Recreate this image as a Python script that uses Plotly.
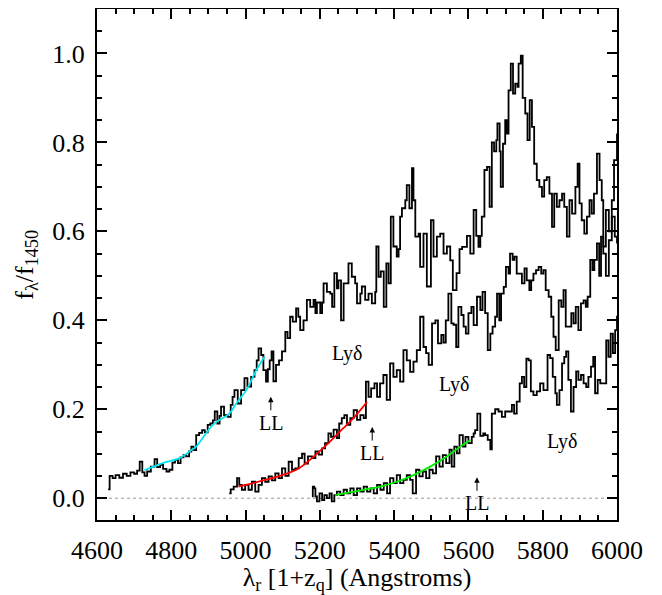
import plotly.graph_objects as go

# spectra (rest wavelength, normalised flux)
top_wave = [4630, 4634, 4642, 4650, 4660, 4670, 4680, 4690, 4700, 4708, 4715, 4722, 4728, 4735, 4745,
            4755, 4762, 4770, 4778, 4787, 4795, 4803, 4810, 4818, 4825, 4833, 4840, 4848, 4854, 4860,
            4867, 4875, 4883, 4890, 4898, 4905, 4912, 4917, 4924, 4930, 4934, 4942, 4952, 4960, 4965,
            4970, 4979, 4988, 4997, 5005, 5015, 5024, 5030, 5035, 5042, 5048, 5055, 5060, 5065, 5070,
            5075, 5082, 5090, 5098, 5107, 5113, 5120, 5127, 5136, 5142, 5147, 5156, 5165, 5174, 5183,
            5188, 5192, 5201, 5206, 5210, 5219, 5228, 5233, 5239, 5246, 5250, 5257, 5264, 5277, 5286,
            5295, 5300, 5309, 5313, 5322, 5331, 5340, 5349, 5352, 5358, 5364, 5372, 5379, 5385, 5391,
            5398, 5407, 5412, 5416, 5421, 5430, 5434, 5441, 5448, 5452, 5457, 5466, 5470, 5479, 5488,
            5499, 5506, 5515, 5524, 5533, 5542, 5551, 5558, 5568, 5576, 5583, 5596, 5605, 5614, 5621,
            5627, 5632, 5636, 5643, 5650, 5657, 5663, 5669, 5675, 5678, 5684, 5687, 5693, 5699, 5703,
            5708, 5714, 5720, 5726, 5732, 5735, 5741, 5746, 5753, 5759, 5765, 5771, 5777, 5784, 5791,
            5798, 5804, 5811, 5818, 5825, 5831, 5838, 5845, 5852, 5858, 5865, 5872, 5879, 5888, 5894,
            5899, 5905, 5912, 5919, 5926, 5932, 5938, 5946, 5953, 5959, 5963, 5970, 5978, 5986, 5992,
            6000]
top_flux = [0.02, 0.05, 0.045, 0.052, 0.046, 0.055, 0.05, 0.058, 0.055, 0.062, 0.082, 0.058, 0.05, 0.06, 0.071,
            0.088, 0.07, 0.075, 0.066, 0.06, 0.064, 0.08, 0.086, 0.079, 0.092, 0.097, 0.094, 0.105, 0.116, 0.108,
            0.142, 0.147, 0.153, 0.148, 0.165, 0.168, 0.175, 0.195, 0.168, 0.185, 0.206, 0.187, 0.183, 0.21, 0.228,
            0.243, 0.213, 0.243, 0.27, 0.251, 0.273, 0.288, 0.31, 0.337, 0.322, 0.288, 0.262, 0.29, 0.31, 0.33,
            0.263, 0.30, 0.31, 0.33, 0.374, 0.36, 0.408, 0.397, 0.427, 0.408, 0.378, 0.40, 0.446, 0.43, 0.446,
            0.416, 0.44, 0.416, 0.44, 0.483, 0.464, 0.46, 0.43, 0.506, 0.472, 0.49, 0.40, 0.483, 0.528, 0.498,
            0.483, 0.438, 0.46, 0.476, 0.446, 0.46, 0.438, 0.464, 0.566, 0.498, 0.51, 0.43, 0.528, 0.483, 0.633,
            0.566, 0.543, 0.56, 0.633, 0.652, 0.67, 0.704, 0.652, 0.742, 0.67, 0.588, 0.595, 0.52, 0.595, 0.476,
            0.625, 0.543, 0.588, 0.595, 0.55, 0.566, 0.535, 0.468, 0.506, 0.56, 0.565, 0.59, 0.55, 0.648, 0.59,
            0.565, 0.59, 0.633, 0.738, 0.745, 0.655, 0.80, 0.78, 0.805, 0.843, 0.78, 0.70, 0.797, 0.85, 0.82,
            0.917, 0.977, 0.91, 0.932, 0.925, 0.977, 0.995, 0.90, 0.865, 0.805, 0.895, 0.835, 0.752, 0.715, 0.70,
            0.678, 0.715, 0.722, 0.685, 0.61, 0.685, 0.655, 0.67, 0.685, 0.655, 0.588, 0.67, 0.64, 0.70, 0.752,
            0.663, 0.625, 0.595, 0.633, 0.67, 0.64, 0.685, 0.775, 0.715, 0.67, 0.55, 0.50, 0.58, 0.67, 0.76,
            0.82]

mid_wave = [4956, 4960, 4968, 4977, 4983, 4990, 4999, 5008, 5017, 5026, 5035, 5044, 5053, 5062, 5071,
            5080, 5089, 5098, 5107, 5116, 5125, 5134, 5143, 5152, 5159, 5168, 5179, 5188, 5197, 5206,
            5214, 5223, 5230, 5237, 5246, 5252, 5259, 5266, 5273, 5282, 5291, 5300, 5309, 5318, 5324,
            5331, 5338, 5347, 5354, 5362, 5371, 5380, 5389, 5398, 5407, 5416, 5425, 5434, 5443, 5452,
            5461, 5470, 5479, 5486, 5493, 5502, 5511, 5518, 5527, 5533, 5539, 5546, 5554, 5560, 5567,
            5573, 5581, 5587, 5593, 5600, 5608, 5614, 5623, 5632, 5638, 5645, 5652, 5659, 5665, 5672,
            5677, 5683, 5688, 5695, 5701, 5708, 5712, 5719, 5724, 5730, 5737, 5744, 5751, 5757, 5764,
            5769, 5775, 5782, 5789, 5796, 5802, 5808, 5816, 5823, 5829, 5835, 5843, 5850, 5856, 5862,
            5869, 5877, 5883, 5889, 5896, 5903, 5910, 5916, 5921, 5928, 5934, 5939, 5946, 5952, 5957,
            5963, 5970, 5978, 5986, 5994, 6000]
mid_flux = [0.011, 0.02, 0.026, 0.045, 0.03, 0.019, 0.03, 0.019, 0.037, 0.015, 0.03, 0.045, 0.037, 0.049, 0.04,
            0.056, 0.045, 0.067, 0.05, 0.082, 0.064, 0.067, 0.09, 0.10, 0.078, 0.094, 0.09, 0.105, 0.098, 0.112,
            0.124, 0.146, 0.138, 0.154, 0.135, 0.168, 0.18, 0.187, 0.165, 0.18, 0.198, 0.176, 0.187, 0.18, 0.262,
            0.228, 0.247, 0.258, 0.228, 0.258, 0.277, 0.221, 0.303, 0.273, 0.288, 0.262, 0.333, 0.31, 0.284, 0.307,
            0.333, 0.408, 0.34, 0.326, 0.30, 0.393, 0.40, 0.348, 0.367, 0.35, 0.40, 0.46, 0.393, 0.39, 0.34,
            0.43, 0.412, 0.386, 0.37, 0.416, 0.43, 0.389, 0.453, 0.423, 0.464, 0.416, 0.333, 0.37, 0.386, 0.408,
            0.46, 0.40, 0.46, 0.475, 0.52, 0.505, 0.55, 0.536, 0.543, 0.505, 0.505, 0.483, 0.517, 0.49, 0.468,
            0.49, 0.505, 0.513, 0.52, 0.505, 0.513, 0.468, 0.453, 0.408, 0.363, 0.333, 0.445, 0.43, 0.468, 0.386,
            0.386, 0.416, 0.393, 0.43, 0.378, 0.438, 0.445, 0.43, 0.453, 0.536, 0.513, 0.536, 0.573, 0.50, 0.588,
            0.566, 0.648, 0.60, 0.633, 0.588, 0.573]

low_wave = [5179, 5181, 5185, 5188, 5192, 5199, 5206, 5212, 5219, 5226, 5232, 5239, 5246, 5255, 5264,
            5273, 5282, 5291, 5300, 5309, 5318, 5327, 5336, 5345, 5354, 5363, 5372, 5381, 5389, 5398,
            5407, 5416, 5425, 5434, 5443, 5450, 5459, 5468, 5477, 5486, 5495, 5504, 5513, 5522, 5531,
            5540, 5549, 5555, 5562, 5569, 5576, 5585, 5592, 5600, 5609, 5614, 5618, 5624, 5632, 5640,
            5645, 5652, 5659, 5663, 5672, 5681, 5690, 5699, 5708, 5717, 5723, 5730, 5738, 5744, 5750,
            5756, 5762, 5768, 5775, 5784, 5793, 5802, 5813, 5820, 5827, 5834, 5838, 5845, 5852, 5858,
            5863, 5869, 5876, 5883, 5890, 5896, 5903, 5910, 5917, 5923, 5930, 5936, 5941, 5948, 5955,
            5964, 5971, 5977, 5983, 5989, 5995, 6000]
low_flux = [0.004, 0.026, 0.022, 0.004, -0.007, 0.011, -0.004, 0.007, 0.0, 0.011, -0.007, 0.007, 0.015, 0.007, 0.019,
            0.011, 0.022, 0.007, 0.022, 0.015, 0.026, 0.015, 0.022, 0.011, 0.03, 0.019, 0.034, 0.011, 0.045, 0.034,
            0.052, 0.034, 0.041, 0.052, 0.041, 0.011, 0.064, 0.049, 0.06, 0.045, 0.064, 0.056, 0.094, 0.071, 0.097,
            0.079, 0.109, 0.071, 0.116, 0.101, 0.142, 0.116, 0.138, 0.124, 0.138, 0.146, 0.153, 0.19, 0.14, 0.146,
            0.142, 0.131, 0.11, 0.19, 0.20, 0.195, 0.183, 0.195, 0.195, 0.21, 0.19, 0.217, 0.258, 0.273, 0.25,
            0.314, 0.31, 0.24, 0.232, 0.24, 0.258, 0.243, 0.322, 0.315, 0.273, 0.236, 0.21, 0.243, 0.303, 0.318,
            0.33, 0.266, 0.195, 0.25, 0.285, 0.266, 0.277, 0.258, 0.25, 0.273, 0.296, 0.318, 0.236, 0.266, 0.258,
            0.258, 0.355, 0.318, 0.37, 0.326, 0.378, 0.41]

# continuum fits
cyan_wave = [4728, 4777, 4822, 4854, 4867, 4912, 4957, 4975, 5002, 5029, 5051]
cyan_flux = [0.063, 0.079, 0.09, 0.108, 0.116, 0.165, 0.191, 0.213, 0.243, 0.288, 0.318]
red_wave = [4981, 5053, 5098, 5143, 5188, 5232, 5259, 5286, 5313, 5327]
red_flux = [0.026, 0.041, 0.052, 0.067, 0.097, 0.131, 0.154, 0.176, 0.202, 0.217]
green_wave = [5241, 5318, 5363, 5407, 5452, 5497, 5542, 5578, 5605]
green_flux = [0.007, 0.019, 0.026, 0.037, 0.052, 0.071, 0.094, 0.116, 0.131]

# labels: Ly-delta positions and Lyman-limit arrow tips
lyd_x = [5274, 5562, 5852]
lyd_y = [0.326, 0.255, 0.127]
ll_x = [5068, 5341, 5623]
ll_tip_y = [0.228, 0.160, 0.047]

FONT = "Liberation Serif"

fig = go.Figure()
for w, f in [(top_wave, top_flux), (mid_wave, mid_flux), (low_wave, low_flux)]:
    fig.add_trace(go.Scatter(x=w, y=f, mode="lines", line=dict(color="black", width=1.8, shape="hv"),
                             showlegend=False))
for w, f, c in [(cyan_wave, cyan_flux, "#00e5ee"), (red_wave, red_flux, "#ff0000"),
                (green_wave, green_flux, "#00ee00")]:
    fig.add_trace(go.Scatter(x=w, y=f, mode="lines", line=dict(color=c, width=1.8, shape="spline"),
                             showlegend=False))

fig.add_hline(y=0, line=dict(color="#999999", width=1, dash="dot"), layer="below")

for x, y in zip(lyd_x, lyd_y):
    fig.add_annotation(x=x, y=y, text="Lyδ", showarrow=False, font=dict(family=FONT, size=20, color="black"))
for x, y in zip(ll_x, ll_tip_y):
    # "LL" sits under the tip, the arrow runs up from the text box
    fig.add_annotation(x=x, y=y, ax=0, ay=26, text="LL", showarrow=True, arrowhead=2, arrowsize=1.1,
                       arrowwidth=1, arrowcolor="black", standoff=0,
                       font=dict(family=FONT, size=20, color="black"))

# y title placed by hand so it sits where the reference has it
fig.add_annotation(xref="paper", yref="paper", x=-0.138, y=0.5, xanchor="center", yanchor="middle",
                   text="f<sub>λ</sub>/f<sub>1450</sub>", textangle=-90, showarrow=False,
                   font=dict(family=FONT, size=26, color="black"))

axis_common = dict(showline=True, linecolor="black", linewidth=2, mirror="ticks", ticks="inside",
                   tickcolor="black", tickwidth=2, ticklen=10, showgrid=False, zeroline=False,
                   automargin=False, tickfont=dict(family=FONT, size=26, color="black"))

fig.update_xaxes(range=[4600, 6000], dtick=200, tick0=4600,
                 minor=dict(ticks="inside", dtick=50, ticklen=5, tickcolor="black", tickwidth=2),
                 title=dict(text="λ<sub>r</sub> [1+z<sub>q</sub>] (Angstroms)", standoff=4,
                            font=dict(family=FONT, size=26, color="black")),
                 ticklabelstandoff=6, **axis_common)
fig.update_yaxes(range=[-0.049, 1.1], dtick=0.2, tick0=0, tickformat=".1f",
                 minor=dict(ticks="inside", dtick=0.05, ticklen=5, tickcolor="black", tickwidth=2),
                 ticklabelstandoff=5, **axis_common)

# page body has an 8px margin, so the figure is 8px smaller than the window
fig.update_layout(width=654, height=587, margin=dict(l=89, r=45, t=1, b=75),
                  plot_bgcolor="white", paper_bgcolor="white")

fig.write_html("out.html")
